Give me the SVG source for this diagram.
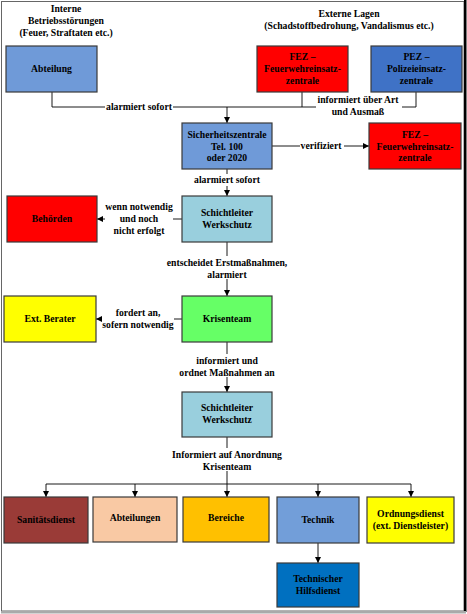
<svg xmlns="http://www.w3.org/2000/svg" width="467" height="614" viewBox="0 0 467 614">
<defs>
<marker id="ah" viewBox="0 0 10 10" refX="10" refY="5" markerWidth="6" markerHeight="6" orient="auto" markerUnits="userSpaceOnUse">
<path d="M0,0 L10,5 L0,10 z" fill="#000"/>
</marker>
<style>
text{font-family:"Liberation Serif","Times New Roman",serif;font-weight:bold;font-size:9.7px;fill:#000;text-anchor:middle}
.lbl{fill:#262626}
.box{stroke:#3a3a3a;stroke-width:1.2}
.ln{fill:none;stroke:#000;stroke-width:0.9}
.arr{fill:none;stroke:#000;stroke-width:0.9;marker-end:url(#ah)}
</style>
</defs>
<rect x="0" y="0" width="467" height="614" fill="#fff"/>
<rect x="1.5" y="1.5" width="462.5" height="609.5" fill="none" stroke="#666" stroke-width="1"/>
<rect x="464" y="0" width="2.5" height="612" fill="#000"/>
<rect x="1" y="611" width="465" height="2.5" fill="#aaa"/>

<g id="hdr-intern" class="lbl">
<text x="66" y="12">Interne</text>
<text x="66" y="24">Betriebsstörungen</text>
<text x="66" y="36">(Feuer, Straftaten etc.)</text>
</g>
<g id="hdr-extern">
<text x="349" y="17">Externe Lagen</text>
<text x="349" y="29">(Schadstoffbedrohung, Vandalismus etc.)</text>
</g>

<g id="connectors">
<polyline class="ln" points="52,92 52,107 302,107 302,92"/>
<polyline class="ln" points="416,92 416,107 302,107"/>
<line class="arr" x1="227" y1="107" x2="227" y2="123"/>
<line class="arr" x1="272" y1="146" x2="369" y2="146"/>
<line class="arr" x1="227" y1="169" x2="227" y2="196"/>
<line class="arr" x1="182" y1="219" x2="97" y2="219"/>
<line class="arr" x1="227" y1="242" x2="227" y2="296"/>
<line class="arr" x1="182" y1="319" x2="96" y2="319"/>
<line class="arr" x1="227" y1="342" x2="227" y2="392"/>
<line class="ln" x1="227" y1="437" x2="227" y2="484"/>
<line class="ln" x1="46" y1="484" x2="411" y2="484"/>
<line class="arr" x1="46" y1="484" x2="46" y2="497"/>
<line class="arr" x1="135" y1="484" x2="135" y2="497"/>
<line class="arr" x1="227" y1="484" x2="227" y2="497"/>
<line class="arr" x1="318" y1="484" x2="318" y2="497"/>
<line class="arr" x1="411" y1="484" x2="411" y2="497"/>
<line class="arr" x1="318" y1="543" x2="318" y2="563"/>
</g>

<g id="edge-labels">
<rect x="105" y="102" width="68" height="10" fill="#fff"/>
<text x="139" y="110">alarmiert sofort</text>
<rect x="316" y="93" width="86" height="25" fill="#fff"/>
<text x="358" y="103">informiert über Art</text>
<text x="358" y="115">und Ausmaß</text>
<rect x="300" y="141" width="44" height="10" fill="#fff"/>
<text x="321" y="149">verifiziert</text>
<rect x="192" y="174" width="70" height="12" fill="#fff"/>
<text x="227" y="183">alarmiert sofort</text>
<rect x="105" y="200" width="68" height="36" fill="#fff"/>
<text x="139" y="210">wenn notwendig</text>
<text x="139" y="222">und noch</text>
<text x="139" y="234">nicht erfolgt</text>
<rect x="166" y="256" width="122" height="23" fill="#fff"/>
<text x="227" y="266">entscheidet Erstmaßnahmen,</text>
<text x="227" y="278">alarmiert</text>
<rect x="102" y="306" width="72" height="23" fill="#fff"/>
<text x="138" y="316">fordert an,</text>
<text x="138" y="328">sofern notwendig</text>
<rect x="178" y="354" width="98" height="23" fill="#fff"/>
<text x="227" y="364">informiert und</text>
<text x="227" y="376">ordnet Maßnahmen an</text>
<rect x="170" y="448" width="114" height="23" fill="#fff"/>
<text x="227" y="458">Informiert auf Anordnung</text>
<text x="227" y="470">Krisenteam</text>
</g>

<g id="abteilung">
<rect class="box" x="6" y="46" width="91" height="46" fill="#6f9ad8"/>
<text x="51.5" y="72">Abteilung</text>
</g>
<g id="fez-top">
<rect class="box" x="257" y="46" width="91" height="46" fill="#ff0000"/>
<text x="302.5" y="60">FEZ –</text>
<text x="302.5" y="72">Feuerwehreinsatz-</text>
<text x="302.5" y="84">zentrale</text>
</g>
<g id="pez">
<rect class="box" x="371" y="46" width="91" height="46" fill="#3f72c6"/>
<text x="416.5" y="60">PEZ –</text>
<text x="416.5" y="72">Polizeieinsatz-</text>
<text x="416.5" y="84">zentrale</text>
</g>
<g id="sicherheitszentrale">
<rect class="box" x="182" y="123" width="90" height="46" fill="#6f9ad8"/>
<text x="227" y="138">Sicherheitszentrale</text>
<text x="227" y="150">Tel. 100</text>
<text x="227" y="161">oder 2020</text>
</g>
<g id="fez-right">
<rect class="box" x="369" y="123" width="92" height="46" fill="#ff0000"/>
<text x="415" y="138">FEZ –</text>
<text x="415" y="150">Feuerwehreinsatz-</text>
<text x="415" y="161">zentrale</text>
</g>
<g id="schichtleiter1">
<rect class="box" x="182" y="196" width="90" height="46" fill="#99cfdd"/>
<text x="227" y="216">Schichtleiter</text>
<text x="227" y="228">Werkschutz</text>
</g>
<g id="behoerden">
<rect class="box" x="7" y="196" width="90" height="46" fill="#ff0000"/>
<text x="52" y="222">Behörden</text>
</g>
<g id="krisenteam">
<rect class="box" x="182" y="296" width="90" height="46" fill="#66ff66"/>
<text x="227" y="322">Krisenteam</text>
</g>
<g id="ext-berater">
<rect class="box" x="4" y="296" width="92" height="46" fill="#ffff00"/>
<text x="50" y="322">Ext. Berater</text>
</g>
<g id="schichtleiter2">
<rect class="box" x="182" y="392" width="90" height="45" fill="#99cfdd"/>
<text x="227" y="411">Schichtleiter</text>
<text x="227" y="423">Werkschutz</text>
</g>
<g id="sanitaetsdienst">
<rect class="box" x="4" y="497" width="84" height="46" fill="#9a3b37"/>
<text x="46" y="523">Sanitätsdienst</text>
</g>
<g id="abteilungen">
<rect class="box" x="93" y="497" width="84" height="45" fill="#f9c9a4"/>
<text x="135" y="521">Abteilungen</text>
</g>
<g id="bereiche">
<rect class="box" x="183" y="497" width="86" height="45" fill="#ffc000"/>
<text x="226" y="521">Bereiche</text>
</g>
<g id="technik">
<rect class="box" x="277" y="497" width="82" height="46" fill="#729ed9"/>
<text x="318" y="523">Technik</text>
</g>
<g id="ordnungsdienst">
<rect class="box" x="367" y="497" width="87" height="46" fill="#ffff00"/>
<text x="410.5" y="517">Ordnungsdienst</text>
<text x="410.5" y="529">(ext. Dienstleister)</text>
</g>
<g id="technischer-hilfsdienst">
<rect class="box" x="277" y="563" width="82" height="44" fill="#0070c0"/>
<text x="318" y="582">Technischer</text>
<text x="318" y="594">Hilfsdienst</text>
</g>
</svg>
